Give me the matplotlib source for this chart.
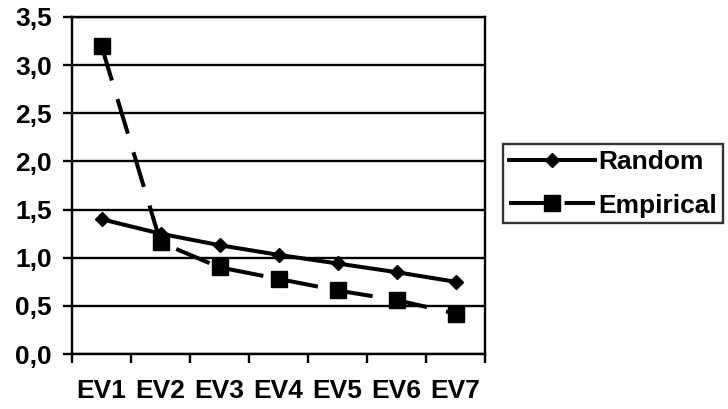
import matplotlib
matplotlib.use("Agg")
import matplotlib.pyplot as plt
import numpy as np

categories = ["EV1", "EV2", "EV3", "EV4", "EV5", "EV6", "EV7"]
random_vals = [1.40, 1.25, 1.13, 1.03, 0.94, 0.85, 0.75]
empirical_vals = [3.20, 1.16, 0.90, 0.78, 0.66, 0.56, 0.42]
yticks = [0.0, 0.5, 1.0, 1.5, 2.0, 2.5, 3.0, 3.5]
ytick_labels = ["0,0", "0,5", "1,0", "1,5", "2,0", "2,5", "3,0", "3,5"]

plt.rcParams['font.family'] = ['Liberation Sans', 'DejaVu Sans']
plt.rcParams['font.weight'] = 'bold'
plt.rcParams['lines.scale_dashes'] = False

FS = 19

fig = plt.figure(figsize=(7.28, 4.09), dpi=100)
ax = fig.add_axes([72/728, 1-354/409, (485-72)/728, (354-17)/409])

x = np.arange(len(categories))
ax.plot(x, random_vals, color='black', lw=2.9, marker='D', markersize=7.2,
        label='Random', zorder=3)
ax.plot(x, empirical_vals, color='black', lw=2.9, marker='s', markersize=11,
        dashes=(26, 14), label='Empirical', zorder=3)

ax.set_xlim(-0.5, len(categories) - 0.5)
ax.set_ylim(0, 3.5)
ax.set_yticks(yticks)
ax.set_yticklabels(ytick_labels, fontsize=FS, fontweight='bold')
for yv in yticks:
    ax.axhline(yv, color='black', lw=1.7, zorder=1)

ax.set_xticks(np.arange(len(categories) + 1) - 0.5)
ax.set_xticklabels([])
ax.set_xticks(x, minor=True)
ax.set_xticklabels(categories, minor=True, fontsize=FS, fontweight='bold')
ax.tick_params(axis='x', which='major', length=6.5, width=1.7, direction='out')
ax.tick_params(axis='x', which='minor', length=0, pad=18)
ax.tick_params(axis='y', length=6.5, width=1.7, direction='out', pad=8)

for s in ax.spines.values():
    s.set_linewidth(1.7)
    s.set_color('black')

leg = fig.legend(loc='upper left', bbox_to_anchor=(503/728, 1-144/409),
                 fontsize=FS, handlelength=3.25, handletextpad=0.15,
                 labelspacing=0.75, borderpad=0.22, borderaxespad=0,
                 frameon=True, fancybox=False, numpoints=1)
leg.get_frame().set_edgecolor('black')
leg.get_frame().set_linewidth(1.7)
for t in leg.get_texts():
    t.set_fontweight('bold')

fig.savefig("out.png", dpi=100)
